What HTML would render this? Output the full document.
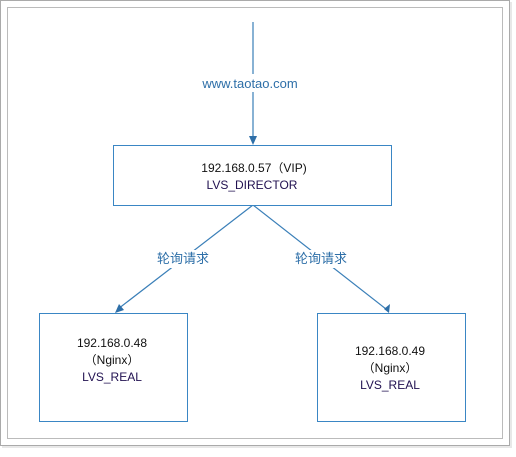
<!DOCTYPE html>
<html><head><meta charset="utf-8"><style>
body{margin:0;width:516px;height:452px;background:#fff;overflow:hidden}
svg text{font-family:"Liberation Sans","Noto Sans CJK SC",sans-serif;font-size:12px}
svg text.lb{font-size:13px}
</style></head><body>
<svg width="516" height="452" xmlns="http://www.w3.org/2000/svg">
<rect x="2" y="2" width="510" height="446" fill="#e8e8e8"/>
<rect x="0.5" y="0.5" width="509" height="445" fill="#fff" stroke="#aaa"/>
<rect x="7.5" y="7.5" width="495" height="431" fill="#fff" stroke="#bbb"/>
<g stroke="#3a7fb8" stroke-width="1.2" fill="none">
<line x1="253" y1="22" x2="253" y2="140"/>
<line x1="253" y1="205" x2="118" y2="309"/>
<line x1="253" y1="205" x2="386" y2="309"/>
</g>
<g fill="#2e6fa8">
<polygon points="253,145 249,136 257,136"/>
<polygon points="115,313 119,304 124,310"/>
<polygon points="389,313 384,309 390,304"/>
</g>
<rect x="65" y="74" width="190" height="18" fill="#fff"/>
<text class="lb" x="250" y="88" text-anchor="middle" fill="#2e6fa8">www.taotao.com</text>
<rect x="155" y="250" width="60" height="18" fill="#fff"/>
<rect x="292" y="250" width="60" height="18" fill="#fff"/>
<text class="lb" x="183" y="263" text-anchor="middle" fill="#2e6fa8">轮询请求</text>
<text class="lb" x="321" y="263" text-anchor="middle" fill="#2e6fa8">轮询请求</text>
<g fill="#fff" stroke="#3a86c4">
<rect x="113.5" y="145.5" width="278" height="60"/>
<rect x="39.5" y="313.5" width="148" height="108"/>
<rect x="317.5" y="313.5" width="148" height="108"/>
</g>
<g fill="#111" text-anchor="middle">
<text x="254" y="172">192.168.0.57（VIP)</text>
<text x="252" y="189" fill="#201050">LVS_DIRECTOR</text>
<text x="112" y="347">192.168.0.48</text>
<text x="112" y="364">（Nginx）</text>
<text x="112" y="381" fill="#201050">LVS_REAL</text>
<text x="390" y="355">192.168.0.49</text>
<text x="390" y="372">（Nginx）</text>
<text x="390" y="389" fill="#201050">LVS_REAL</text>
</g>
</svg>
</body></html>
